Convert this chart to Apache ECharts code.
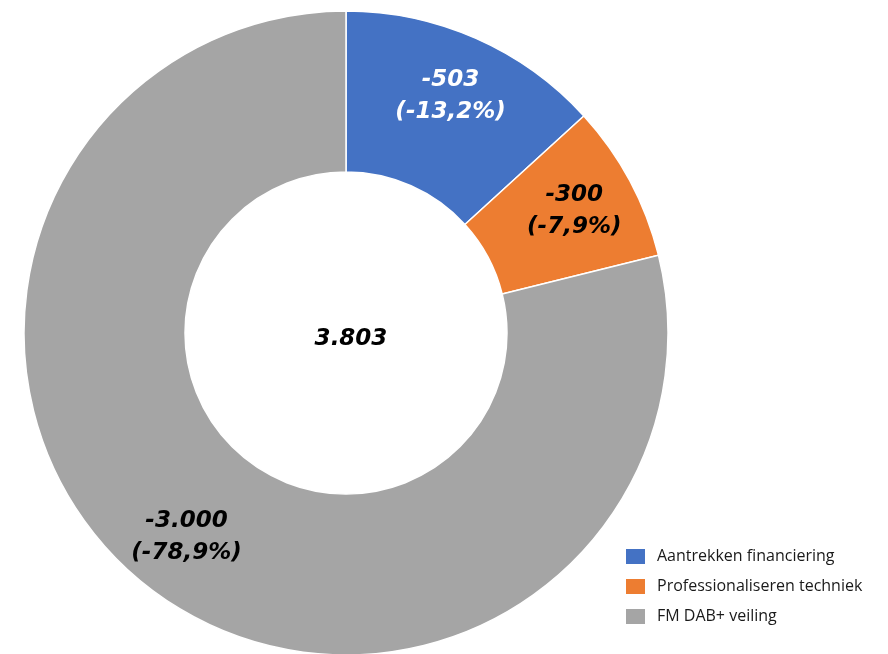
<!DOCTYPE html>
<html>
<head>
<meta charset="utf-8">
<script src="https://cdn.jsdelivr.net/npm/echarts@6/dist/echarts.min.js"></script>
<style>
  html, body { margin: 0; padding: 0; background: #fff; }
  #chart { width: 888px; height: 654px; }
</style>
</head>
<body>
<div id="chart"></div>
<script>
// Budget changes per item
const categories = ['Aantrekken financiering', 'Professionaliseren techniek', 'FM DAB+ veiling'];
const values = [-503, -300, -3000];
const colors = ['#4472C4', '#ED7D31', '#A5A5A5'];
const labelColors = ['#ffffff', '#000000', '#000000'];

const total = values.reduce((s, v) => s + Math.abs(v), 0);

function fmtInt(v) {
  const sign = v < 0 ? '-' : '';
  return sign + Math.abs(v).toString().replace(/\B(?=(\d{3})+(?!\d))/g, '.');
}
function fmtPct(v) {
  const p = (v / total * 100).toFixed(1).replace('.', ',');
  return p + '%';
}

const sliceData = categories.map((name, i) => ({
  name: name,
  value: Math.abs(values[i]),
  itemStyle: { color: colors[i] }
}));

const labelFont = {
  fontFamily: 'DejaVu Sans',
  fontWeight: 'bold',
  fontStyle: 'italic',
  fontSize: 23,
  lineHeight: 32
};

const chart = echarts.init(document.getElementById('chart'), null, { renderer: 'canvas' });
chart.setOption({
  animation: false,
  title: {
    text: fmtInt(total),
    left: 346,
    top: 334,
    textAlign: 'center',
    textVerticalAlign: 'middle',
    textStyle: Object.assign({ color: '#000' }, labelFont)
  },
  legend: {
    orient: 'vertical',
    left: 624,
    top: 542,
    padding: [5, 5, 5, 0],
    itemWidth: 21,
    itemHeight: 17,
    itemGap: 11,
    icon: 'rect',
    data: categories,
    textStyle: { fontFamily: 'Open Sans', fontSize: 16, color: '#1a1a1a', padding: [0, 0, 0, 6] }
  },
  series: [
    {
      type: 'pie',
      center: [346, 333],
      radius: [161, 322],
      startAngle: 90,
      clockwise: true,
      silent: true,
      label: { show: false },
      labelLine: { show: false },
      itemStyle: { borderColor: '#fff', borderWidth: 1.5 },
      data: sliceData
    },
    {
      // transparent ring carrying the value labels slightly outward
      type: 'pie',
      center: [346, 333],
      radius: [190, 322],
      startAngle: 90,
      clockwise: true,
      silent: true,
      itemStyle: { color: 'rgba(0,0,0,0)', borderWidth: 0 },
      label: Object.assign({
        show: true,
        position: 'inside',
        formatter: p => fmtInt(values[p.dataIndex]) + '\n(-' + fmtPct(p.value) + ')'
      }, labelFont),
      labelLine: { show: false },
      data: categories.map((name, i) => ({
        name: name,
        value: Math.abs(values[i]),
        label: { color: labelColors[i] }
      }))
    }
  ]
});
</script>
</body>
</html>
